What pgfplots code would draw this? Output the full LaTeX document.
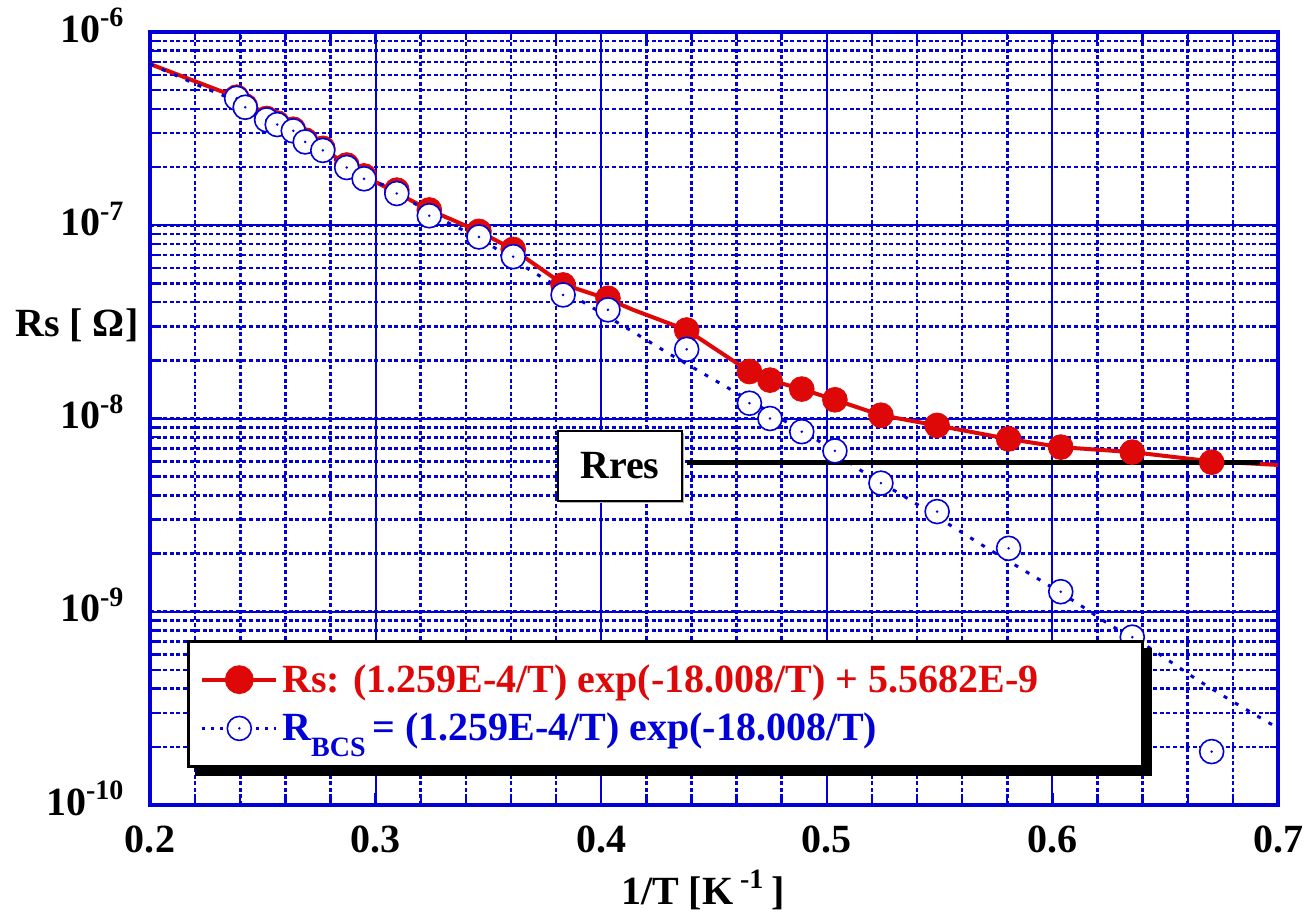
\documentclass[border=0pt]{standalone}
\usepackage{fontspec}
\setmainfont{Liberation Serif}
\usepackage{pgfplots}
\pgfplotsset{compat=1.18}
\usetikzlibrary{shadows}

\definecolor{rsblue}{RGB}{0,0,215}
\definecolor{rsred}{RGB}{222,8,8}
\newcommand\bigfont{\fontsize{20}{24}\selectfont\bfseries}

% open circle with a dot in the middle
\pgfdeclareplotmark{odot}{%
  \pgfpathcircle{\pgfpointorigin}{\pgfplotmarksize}%
  \pgfusepathqfillstroke
  \begin{pgfscope}%
  \pgfsetfillcolor{rsblue}%
  \pgfpathcircle{\pgfpointorigin}{0.7pt}%
  \pgfusepathqfill
  \end{pgfscope}}

\begin{document}
\begin{tikzpicture}
\begin{axis}[
    scale only axis,
    width=564pt, height=386.5pt,
    xmin=0.2, xmax=0.7,
    ymode=log, ymin=1e-10, ymax=1e-6,
    xtick={0.2,0.3,0.4,0.5,0.6,0.7},
    xticklabels={0.2,0.3,0.4,0.5,0.6,0.7},
    minor x tick num=4,
    ytick={1e-10,1e-9,1e-8,1e-7,1e-6},
    yticklabels={10\textsuperscript{-10},10\textsuperscript{-9},10\textsuperscript{-8},10\textsuperscript{-7},10\textsuperscript{-6}},
    xmajorgrids, ymajorgrids, xminorgrids, yminorgrids,
    major grid style={rsblue, line width=1pt},
    minor grid style={rsblue, line width=1.3pt, dash pattern=on 2pt off 1.3pt},
    axis line style={rsblue, line width=2.4pt},
    tick style={rsblue, line width=1.2pt},
    major tick length=6pt, minor tick length=4pt,
    tick label style={font=\bigfont},
    xticklabel style={anchor=base, yshift=-23.5pt},
    yticklabel style={anchor=base east, xshift=-9.3pt, yshift=-5pt},
    xlabel={1/T [K\,\textsuperscript{-1}\,]},
    ylabel={Rs [ Ω]},
    every axis x label/.style={at={(axis description cs:0.49,0)}, anchor=base, yshift=-49.5pt, font=\bigfont},
    every axis y label/.style={at={(axis description cs:0,0.621)}, anchor=east, xshift=-2.3pt, font=\bigfont},
    legend image code/.code={\draw[mark repeat=2,mark phase=2,#1] plot coordinates {(0pt,0pt) (18.5pt,0pt) (37pt,0pt)};},
    legend style={name=leg, at={(axis description cs:0.0328,0.2135)}, anchor=north west,
        draw=black, line width=1.3pt, fill=white,
        font=\bigfont, cells={anchor=west}, inner xsep=6pt, inner ysep=9.5pt, row sep=5pt},
]

% fitted Rs curve
\addplot[rsred, line width=2pt, forget plot] coordinates {
(0.2,6.83e-7) (0.2384,4.6e-7) (0.2635,3.14e-7) (0.2949,1.8e-7) (0.3238,1.2e-7)
(0.3458,9.3e-8) (0.3610,7.5e-8) (0.3831,4.95e-8) (0.4030,4.15e-8) (0.4142,3.65e-8)
(0.4379,2.87e-8) (0.4657,1.75e-8) (0.4748,1.58e-8) (0.4889,1.42e-8) (0.5036,1.25e-8)
(0.5240,1.04e-8) (0.5489,9.2e-9) (0.5806,7.84e-9) (0.6037,7.11e-9) (0.6354,6.7e-9)
(0.6706,6.0e-9) (0.7,5.75e-9)};

% measured Rs
\addplot[only marks, mark=*, mark size=6.2pt, rsred, forget plot] coordinates {
(0.2384,4.60e-7) (0.2422,4.14e-7) (0.2517,3.57e-7) (0.2564,3.38e-7) (0.2635,3.14e-7)
(0.2688,2.76e-7) (0.2766,2.50e-7) (0.2872,2.05e-7) (0.2949,1.80e-7) (0.3094,1.52e-7)
(0.3238,1.20e-7) (0.3458,9.3e-8) (0.3610,7.5e-8) (0.3831,4.91e-8) (0.4030,4.19e-8)
(0.4379,2.87e-8) (0.4657,1.75e-8) (0.4748,1.58e-8) (0.4889,1.42e-8) (0.5036,1.25e-8)
(0.5240,1.04e-8) (0.5489,9.21e-9) (0.5806,7.84e-9) (0.6037,7.11e-9) (0.6354,6.70e-9)
(0.6706,5.94e-9)};

% fitted BCS curve
\addplot[rsblue, line width=1.5pt, dash pattern=on 2pt off 4.5pt, forget plot] coordinates {
(0.2,6.83e-7) (0.2229,5.21e-7) (0.2384,4.4e-7) (0.2635,3.05e-7) (0.2949,1.74e-7)
(0.3034,1.62e-7) (0.3299,1.06e-7) (0.3458,8.6e-8) (0.3684,5.87e-8) (0.3919,4.01e-8)
(0.4141,2.81e-8) (0.4296,2.18e-8) (0.4571,1.42e-8) (0.4957,7.75e-9) (0.5147,5.42e-9)
(0.5369,3.79e-9) (0.5559,2.75e-9) (0.5723,2.09e-9) (0.5958,1.43e-9) (0.6109,1.11e-9)
(0.6255,8.55e-10) (0.6446,6.35e-10) (0.6641,4.45e-10) (0.6801,3.42e-10) (0.7,2.5e-10)};

% R_BCS = Rs - Rres
\addplot[only marks, mark=odot, mark size=6pt, rsblue, mark options={line width=0.8pt, fill=white}, forget plot] coordinates {
(0.2384,4.54e-7) (0.2422,4.08e-7) (0.2517,3.51e-7) (0.2564,3.32e-7) (0.2635,3.08e-7)
(0.2688,2.70e-7) (0.2766,2.44e-7) (0.2872,1.99e-7) (0.2949,1.74e-7) (0.3094,1.46e-7)
(0.3238,1.12e-7) (0.3458,8.70e-8) (0.3610,6.88e-8) (0.3831,4.36e-8) (0.4030,3.65e-8)
(0.4379,2.28e-8) (0.4657,1.20e-8) (0.4748,1.00e-8) (0.4889,8.55e-9) (0.5036,6.80e-9)
(0.5240,4.63e-9) (0.5489,3.30e-9) (0.5806,2.13e-9) (0.6037,1.27e-9) (0.6354,7.39e-10)
(0.6706,1.89e-10)};

% residual resistance level
\addplot[black, line width=2.2pt, forget plot] coordinates {(0.438,5.93e-9) (0.692,5.93e-9)};

\addlegendimage{rsred, line width=2pt, mark=*, mark size=6.2pt}
\addlegendentry{\textcolor{rsred}{Rs: (1.259E-4/T) exp(-18.008/T) + 5.5682E-9}\hspace*{44pt}}
\addlegendimage{rsblue, line width=1.5pt, dash pattern=on 1.5pt off 3pt, mark=odot, mark size=6pt, mark options={solid, line width=0.8pt, fill=white}}
\addlegendentry{\textcolor{rsblue}{R\raisebox{-8pt}{\fontsize{14}{14}\selectfont BCS}\,= (1.259E-4/T) exp(-18.008/T)}}

\node[draw=black, line width=1.2pt, fill=white, minimum width=62pt, minimum height=35pt, font=\bigfont,
      drop shadow={shadow xshift=1.2pt, shadow yshift=-1.2pt, fill=gray!60, opacity=1}]
      at (axis cs:0.4083,5.69e-9) {Rres};
\end{axis}
% legend shadow
\fill[black] ([yshift=-4pt]leg.north east) rectangle ([xshift=4pt,yshift=-4pt]leg.south east);
\fill[black] ([xshift=4pt]leg.south west) rectangle ([xshift=4pt,yshift=-4pt]leg.south east);
\pgfresetboundingbox
\path ([shift={(-75pt,-55pt)}]current axis.south west) rectangle ([shift={(13pt,16pt)}]current axis.north east);
\end{tikzpicture}
\end{document}
